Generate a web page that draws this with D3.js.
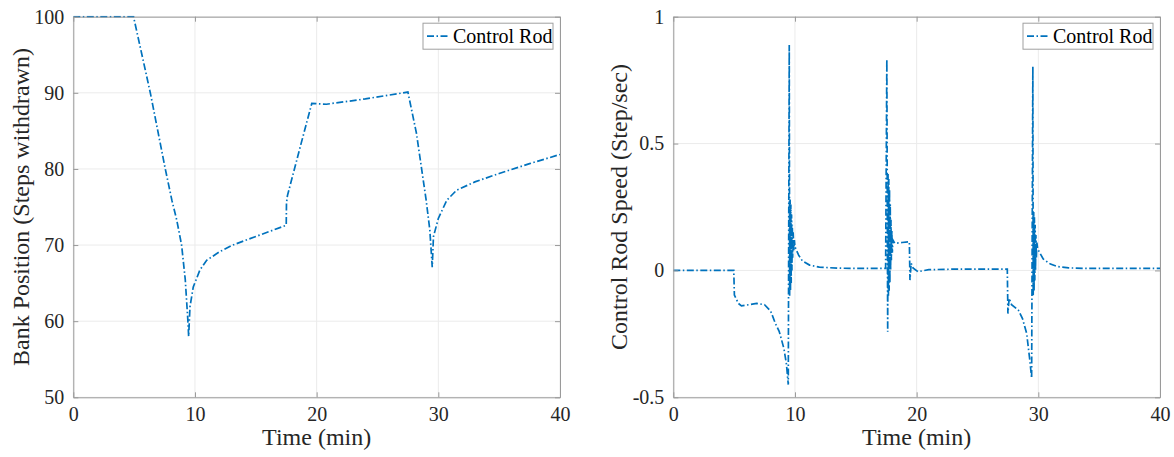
<!DOCTYPE html>
<html>
<head>
<meta charset="utf-8">
<script src="https://cdn.jsdelivr.net/npm/d3@7"></script>
<style>
  body { margin: 0; background: #fff; }
</style>
</head>
<body>
<svg id="chart" width="1174" height="457"></svg>
<script>
// ---- data ----
const xTicks = [0, 10, 20, 30, 40];

const posTicks = [50, 60, 70, 80, 90, 100];
const posTime  = [0, 4.95, 6.33, 7.56, 8.1, 8.5, 8.9, 9.2, 9.42, 9.48, 9.59, 9.86, 10.4, 10.96, 12.0, 13.1, 15.3, 17.5,
                  17.52, 17.6, 17.65, 18.65, 19.6, 20.8, 24.0, 27.5, 28.2, 29.0, 29.3, 29.5, 29.6, 30.0, 30.7, 31.5,
                  33.0, 35.0, 37.5, 40];
const posValue = [100, 100, 90, 80, 75.9, 73.3, 70, 65.5, 60, 58, 61.9, 64.5, 66.7, 68.0, 69.1, 70.0, 71.3, 72.6,
                  75.5, 76.5, 76.8, 82.9, 88.6, 88.5, 89.2, 90.1, 84.7, 75.9, 72.0, 67.1, 71.1, 73.5, 75.9, 77.2,
                  78.3, 79.4, 80.7, 81.9];

const speedTicks  = [-0.5, 0, 0.5, 1];
const speedLabels = ["-0.5", "0", "0.5", "1"];
const speedTime  = [0, 4.97, 5.02, 5.15, 5.35, 5.6, 6.2, 6.85, 7.5, 8.0, 8.4, 8.7, 8.9, 9.1, 9.3, 9.45,
                    9.53, 9.56, 9.6, 9.63, 9.66, 9.69, 9.72, 9.75, 9.78, 9.81, 9.85, 9.9, 9.95, 10.0,
                    10.3, 10.6, 11.2, 12.0, 13.5, 15.0, 17.45,
                    17.55, 17.62, 17.65, 17.68, 17.71, 17.74, 17.77, 17.8, 17.83, 17.86, 17.89, 17.92, 17.96, 18.0, 18.05,
                    18.2, 18.8, 19.4, 19.45, 19.55, 19.7, 20.1, 21.0, 23.0, 27.45,
                    27.5, 27.6, 27.8, 28.35, 28.7, 29.04, 29.3, 29.45,
                    29.55, 29.58, 29.62, 29.65, 29.68, 29.71, 29.74, 29.77, 29.8, 29.84, 29.88, 29.93, 30.0,
                    30.4, 31.0, 31.6, 32.5, 34.0, 40];
const speedValue = [0, 0, -0.097, -0.11, -0.13, -0.14, -0.135, -0.13, -0.135, -0.16, -0.21, -0.24, -0.274, -0.31, -0.37, -0.45,
                    0.888, -0.1, 0.28, -0.08, 0.26, -0.05, 0.22, 0.0, 0.18, 0.05, 0.15, 0.08, 0.12, 0.093,
                    0.06, 0.038, 0.021, 0.013, 0.009, 0.008, 0.008,
                    0.832, -0.242, 0.38, -0.1, 0.36, -0.08, 0.32, -0.05, 0.26, 0.0, 0.2, 0.04, 0.16, 0.07, 0.12,
                    0.107, 0.11, 0.113, -0.038, 0.028, 0.01, -0.005, 0.003, 0.005, 0.005,
                    -0.17, -0.11, -0.135, -0.156, -0.19, -0.248, -0.353, -0.425,
                    0.803, -0.1, 0.23, -0.08, 0.21, -0.04, 0.18, 0.0, 0.14, 0.05, 0.11, 0.09, 0.08,
                    0.045, 0.025, 0.015, 0.01, 0.008, 0.008];

const svg = d3.select("#chart");
const serif = '"Liberation Serif", "DejaVu Serif", "Times New Roman", serif';
const lineColor = "#0072BD";
const axisColor = "#9a9a9a";

function drawPanel(p) {
  const x = d3.scaleLinear().domain([0, 40]).range([p.left, p.right]);
  const y = d3.scaleLinear().domain(p.yDomain).range([p.bottom, p.top]);
  const g = svg.append("g");

  // grid
  g.selectAll(".gx").data(xTicks).enter().append("line")
    .attr("x1", d => x(d)).attr("x2", d => x(d))
    .attr("y1", p.top).attr("y2", p.bottom)
    .attr("stroke", "#ebebeb").attr("stroke-width", 1);
  g.selectAll(".gy").data(p.yTicks).enter().append("line")
    .attr("x1", p.left).attr("x2", p.right)
    .attr("y1", d => y(d)).attr("y2", d => y(d))
    .attr("stroke", "#ebebeb").attr("stroke-width", 1);

  // curve
  const clipId = "clip" + p.id;
  svg.append("clipPath").attr("id", clipId).append("rect")
    .attr("x", p.left).attr("y", p.top - 1)
    .attr("width", p.right - p.left).attr("height", p.bottom - p.top + 2);
  const pts = p.time.map((t, i) => [t, p.values[i]]);
  g.append("path")
    .attr("clip-path", `url(#${clipId})`)
    .attr("d", d3.line().x(d => x(d[0])).y(d => y(d[1]))(pts))
    .attr("fill", "none")
    .attr("stroke", lineColor)
    .attr("stroke-width", 1.7)
    .attr("stroke-dasharray", "7,2.5,1.5,2.5");

  // axes (box with inward ticks)
  const axB = d3.axisBottom(x).tickValues(xTicks).tickSizeInner(-5).tickSizeOuter(0).tickPadding(10);
  const axT = d3.axisTop(x).tickValues(xTicks).tickSizeInner(-5).tickSizeOuter(0).tickFormat("");
  const axL = d3.axisLeft(y).tickValues(p.yTicks).tickSizeInner(-5).tickSizeOuter(0).tickPadding(9)
    .tickFormat((d, i) => p.yLabels[i]);
  const axR = d3.axisRight(y).tickValues(p.yTicks).tickSizeInner(-5).tickSizeOuter(0).tickFormat("");

  [[axB, `translate(0,${p.bottom})`], [axT, `translate(0,${p.top})`],
   [axL, `translate(${p.left},0)`], [axR, `translate(${p.right},0)`]].forEach(([ax, tr]) => {
    const a = g.append("g").attr("transform", tr).call(ax).attr("font-family", null);
    a.selectAll("path, line").attr("stroke", axisColor);
    a.selectAll("text").attr("fill", "#262626")
      .style("font-family", serif).style("font-size", "20px");
  });

  // axis labels
  g.append("text")
    .attr("x", (p.left + p.right) / 2).attr("y", 445)
    .attr("text-anchor", "middle")
    .style("font-family", serif).style("font-size", "24px").attr("fill", "#262626")
    .text("Time (min)");
  g.append("text")
    .attr("transform", `translate(${p.yLabelX},${(p.top + p.bottom) / 2}) rotate(-90)`)
    .attr("text-anchor", "middle")
    .style("font-family", serif).style("font-size", "24px").attr("fill", "#262626")
    .text(p.yTitle);

  // legend
  const lw = 130, lh = 26;
  const lx = p.right - 7 - lw, ly = p.top + 6.5;
  g.append("rect").attr("x", lx).attr("y", ly).attr("width", lw).attr("height", lh)
    .attr("fill", "#fff").attr("stroke", "#a0a0a0").attr("stroke-width", 1);
  g.append("line").attr("x1", lx + 4).attr("x2", lx + 27)
    .attr("y1", ly + lh / 2).attr("y2", ly + lh / 2)
    .attr("stroke", lineColor).attr("stroke-width", 1.7)
    .attr("stroke-dasharray", "7,2.5,1.5,2.5");
  g.append("text").attr("x", lx + 30).attr("y", ly + 20)
    .style("font-family", serif).style("font-size", "20px").attr("fill", "#000")
    .text("Control Rod");
}

drawPanel({
  id: "L", left: 73.3, right: 560, top: 16.7, bottom: 397.3,
  yDomain: [50, 100], yTicks: posTicks, yLabels: posTicks.map(String),
  time: posTime, values: posValue,
  yTitle: "Bank Position (Steps withdrawn)", yLabelX: 29
});
drawPanel({
  id: "R", left: 673.3, right: 1160, top: 16.7, bottom: 397.3,
  yDomain: [-0.5, 1], yTicks: speedTicks, yLabels: speedLabels,
  time: speedTime, values: speedValue,
  yTitle: "Control Rod Speed (Step/sec)", yLabelX: 627
});
</script>
</body>
</html>
